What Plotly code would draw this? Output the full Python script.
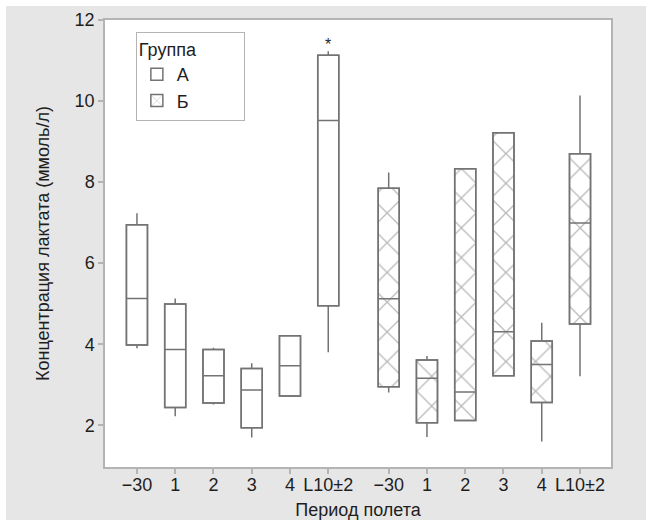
import plotly.graph_objects as go

# Flight periods (same sequence for both groups)
periods = ["\u221230", "1", "2", "3", "4", "L10\u00b12"]
group_names = ["\u0410", "\u0411"]

# Group А: box statistics, lactate concentration (mmol/l)
a_lower = [3.90, 2.22, 2.51, 1.70, 2.72, 3.80]
a_q1 = [3.98, 2.44, 2.55, 1.94, 2.72, 4.95]
a_median = [5.13, 3.87, 3.22, 2.87, 3.47, 9.52]
a_q3 = [6.95, 4.99, 3.87, 3.40, 4.21, 11.13]
a_upper = [7.23, 5.13, 3.91, 3.53, 4.21, 11.23]

# Group Б: box statistics, lactate concentration (mmol/l)
b_lower = [2.81, 1.71, 2.12, 3.22, 1.60, 3.21]
b_q1 = [2.95, 2.06, 2.12, 3.22, 2.56, 4.50]
b_median = [5.12, 3.16, 2.82, 4.31, 3.50, 6.99]
b_q3 = [7.85, 3.61, 8.33, 9.22, 4.08, 8.70]
b_upper = [8.24, 3.71, 8.33, 9.22, 4.53, 10.14]

# Significance mark: group А, period L10±2
star_period = 5
star_value = 11.4

y_ticks = [2, 4, 6, 8, 10, 12]

# ---- layout constants ----
W, H = 646, 520
ML, MR, MT, MB = 105, 35, 20, 53
GROUP_GAP = 1.58
BOX_W = 0.55
LINE = "#737373"
AXIS = "#b4b4b4"
BG = "#e6e6e6"
TXT = "#1e1e1e"
FS = 18
FONT = "Liberation Sans, Arial, sans-serif"

pos_a = [float(i) for i in range(len(periods))]
pos_b = [i + len(periods) - 1 + GROUP_GAP for i in range(len(periods))]

fig = go.Figure()

# Filled box bodies (carry the legend symbols)
fig.add_trace(go.Bar(
    x=pos_a, y=[h - l for h, l in zip(a_q3, a_q1)], base=a_q1, width=BOX_W,
    name=group_names[0], showlegend=True, hoverinfo="skip",
    marker=dict(color="white", line=dict(color=LINE, width=1.5)),
))
fig.add_trace(go.Bar(
    x=pos_b, y=[h - l for h, l in zip(b_q3, b_q1)], base=b_q1, width=BOX_W,
    name=group_names[1], showlegend=True, hoverinfo="skip",
    marker=dict(color="white", line=dict(color=LINE, width=1.5),
                pattern=dict(shape="x", size=21, solidity=0.12,
                             fgcolor="#737373", bgcolor="white")),
))

# Box outlines, medians and whiskers
for pos, lo, q1, med, q3, hi, name in [
    (pos_a, a_lower, a_q1, a_median, a_q3, a_upper, group_names[0]),
    (pos_b, b_lower, b_q1, b_median, b_q3, b_upper, group_names[1]),
]:
    fig.add_trace(go.Box(
        x=pos, q1=q1, median=med, q3=q3, lowerfence=lo, upperfence=hi,
        width=BOX_W, name=name, showlegend=False,
        fillcolor="rgba(0,0,0,0)", line=dict(color=LINE, width=1.5),
        whiskerwidth=0,
    ))

fig.add_annotation(x=pos_a[star_period], y=star_value, text="*",
                   showarrow=False, yanchor="middle",
                   font=dict(size=16, color=TXT, family=FONT))

# White page edge around the grey panel
pw, ph = W - ML - MR, H - MT - MB
fig.add_shape(type="rect", xref="paper", yref="paper", layer="below",
              x0=-ML / pw, x1=(W - ML) / pw, y0=1 + (MT - 6) / ph, y1=1 + MT / ph,
              fillcolor="white", line=dict(width=0))
fig.add_shape(type="rect", xref="paper", yref="paper", layer="below",
              x0=-ML / pw, x1=(6 - ML) / pw, y0=-MB / ph, y1=1 + MT / ph,
              fillcolor="white", line=dict(width=0))

axis_common = dict(
    showgrid=False, zeroline=False, showline=True, linecolor=AXIS, linewidth=1.5,
    mirror=True, ticks="outside", ticklen=5, tickwidth=2, tickcolor=AXIS,
    tickfont=dict(size=FS, color=TXT, family=FONT), automargin=False,
)

fig.update_layout(
    width=W, height=H,
    margin=dict(l=ML, r=MR, t=MT, b=MB),
    paper_bgcolor=BG, plot_bgcolor="white",
    barmode="overlay", boxmode="overlay",
    font=dict(family=FONT, size=FS, color=TXT),
    xaxis=dict(
        range=[-0.835, 12.39], tickmode="array",
        tickvals=pos_a + pos_b, ticktext=periods + periods,
        ticklabelstandoff=-4,
        title=dict(text="\u041f\u0435\u0440\u0438\u043e\u0434 \u043f\u043e\u043b\u0435\u0442\u0430",
                   standoff=16, font=dict(size=FS, color=TXT)),
        **axis_common,
    ),
    yaxis=dict(
        range=[0.97, 12], tickmode="array", tickvals=y_ticks,
        title=dict(text="\u041a\u043e\u043d\u0446\u0435\u043d\u0442\u0440\u0430\u0446\u0438\u044f "
                        "\u043b\u0430\u043a\u0442\u0430\u0442\u0430 (\u043c\u043c\u043e\u043b\u044c/\u043b)",
                   standoff=20, font=dict(size=FS, color=TXT)),
        **axis_common,
    ),
    legend=dict(
        x=0.061, y=0.974, xanchor="left", yanchor="top",
        bgcolor="white", bordercolor=AXIS, borderwidth=1,
        title=dict(text="\u0413\u0440\u0443\u043f\u043f\u0430" + "\u00a0" * 9,
                   font=dict(size=FS)),
        font=dict(size=FS, color=TXT), itemwidth=30,
        tracegroupgap=4,
    ),
)

fig.write_html("out.html")
